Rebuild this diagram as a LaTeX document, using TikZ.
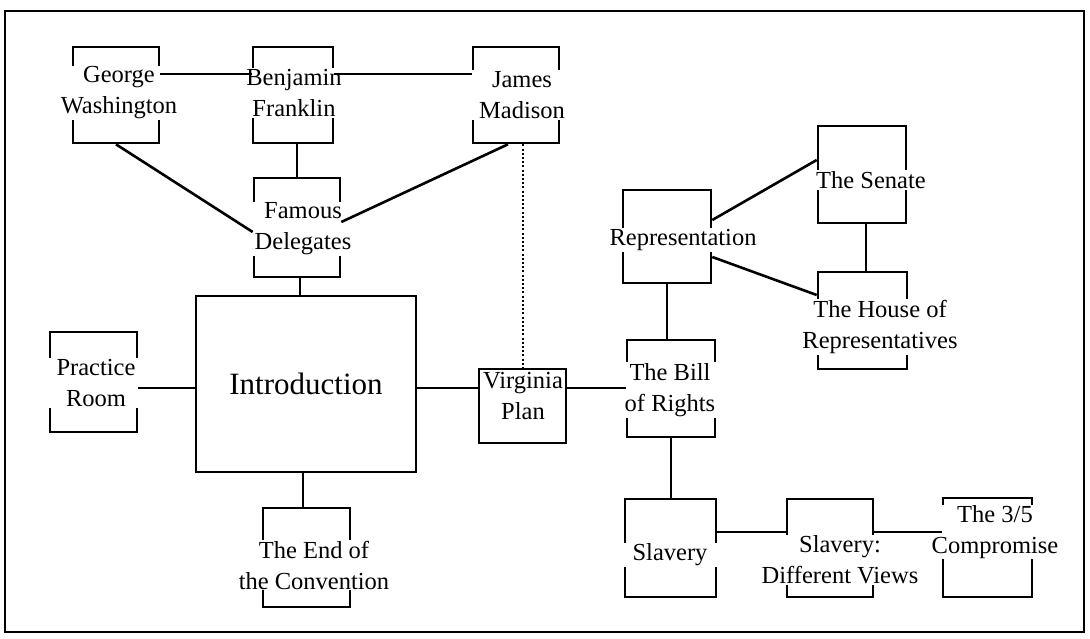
\documentclass[tikz,border=0pt]{standalone}
\usepackage{fontspec}
\setmainfont{Liberation Serif}
\begin{document}
\begin{tikzpicture}[x=1pt,y=-1pt,
  bx/.style={draw, line width=2.6pt, rectangle, inner sep=0pt},
  txt/.style={fill=white, inner xsep=4pt, inner ysep=1pt, align=center, minimum width=104pt,
              font=\fontsize{24.5}{31}\selectfont},
  bigtxt/.style={inner sep=2pt, font=\fontsize{31}{36}\selectfont},
  ln/.style={line width=2.6pt},
  dt/.style={line width=2pt, dash pattern=on 2pt off 2.2pt}]
\useasboundingbox (0,0) rectangle (1090,638);
\draw[line width=2.6pt] (5,11) rectangle (1084,632);

% boxes
\node[bx, minimum width=86pt, minimum height=96pt] (gw) at (116,95) {};
\node[bx, minimum width=80pt, minimum height=96pt] (bf) at (293,95) {};
\node[bx, minimum width=86pt, minimum height=96pt] (jm) at (516,95) {};
\node[bx, minimum width=86pt, minimum height=99pt] (fd) at (297,227.5) {};
\node[bx, minimum width=220pt, minimum height=176pt] (intro) at (306,384) {};
\node[bx, minimum width=87pt, minimum height=100pt] (pr) at (93.5,382) {};
\node[bx, minimum width=87pt, minimum height=99pt] (endc) at (306.5,557.5) {};
\node[bx, minimum width=87pt, minimum height=74pt] (vp) at (522.5,406) {};
\node[bx, minimum width=88pt, minimum height=97pt] (bill) at (671,388.5) {};
\node[bx, minimum width=88pt, minimum height=93pt] (rep) at (667,236.5) {};
\node[bx, minimum width=88pt, minimum height=97pt] (sen) at (862,174.5) {};
\node[bx, minimum width=89pt, minimum height=97pt] (house) at (862.5,320.5) {};
\node[bx, minimum width=91pt, minimum height=98pt] (slav) at (670.5,548) {};
\node[bx, minimum width=86pt, minimum height=98pt] (sdv) at (830,548) {};
\node[bx, minimum width=89pt, minimum height=99pt] (tf) at (987.5,547.5) {};

% texts
\node[txt] (gwt) at (119,93) {George\\Washington};
\node[txt] (bft) at (294,93) {Benjamin\\Franklin};
\node[txt] (jmt) at (522,95) {James\\Madison};
\node[txt] (fdt) at (303,229) {Famous\\Delegates};
\node[bigtxt] (introt) at (306,384) {Introduction};
\node[txt] (prt) at (96,383) {Practice\\Room};
\node[txt] (endt) at (314,565) {The End of\\the Convention};
\node[txt, minimum width=0pt, inner xsep=1pt, inner ysep=0pt] (vpt) at (523,396) {Virginia\\Plan};
\node[txt] (billt) at (670,390) {The Bill\\of Rights};
\node[txt] (rept) at (683,240) {Representation};
\node[txt] (sent) at (871,180) {The Senate};
\node[txt] (houset) at (880,327) {The House of\\Representatives};
\node[txt] (slavt) at (670,555) {Slavery};
\node[txt] (sdvt) at (840,560) {Slavery:\\Different Views};
\node[txt, inner ysep=0pt] (tft) at (995,532) {The 3/5\\Compromise};

% connectors
\draw[ln] (gw.east |- 0,74) -- (bf.west |- 0,74);
\draw[ln] (bf.east |- 0,74) -- (jm.west |- 0,74);
\draw[ln] (fd.north |- bf.south) -- (fd.north);
\draw[ln] (gw.south) -- (fd.west |- 0,232);
\draw[ln] ([xshift=-8pt]jm.south) -- (fd.east |- 0,222);
\draw[dt] (vp.north |- jm.south) -- (vp.north);
\draw[ln] ([xshift=3pt]fd.south) -- ([xshift=3pt]fd.south |- intro.north);
\draw[ln] (pr.east |- 0,388) -- (intro.west |- 0,388);
\draw[ln] ([xshift=-3pt]intro.south) -- ([xshift=-3pt]intro.south |- endc.north);
\draw[ln] (intro.east |- 0,388) -- (vp.west |- 0,388);
\draw[ln] (vp.east |- 0,388) -- (bill.west |- 0,388);
\draw[ln] (rep.south) -- (rep.south |- bill.north);
\draw[ln] (rep.east |- 0,220) -- (sen.west |- 0,160);
\draw[ln] (rep.east |- 0,257) -- (house.west |- 0,295);
\draw[ln] ([xshift=4pt]sen.south) -- ([xshift=4pt]sen.south |- house.north);
\draw[ln] (bill.south) -- (bill.south |- slav.north);
\draw[ln] (slav.east |- 0,532) -- (sdv.west |- 0,532);
\draw[ln] (sdv.east |- 0,532) -- (tf.west |- 0,532);
\end{tikzpicture}
\end{document}
